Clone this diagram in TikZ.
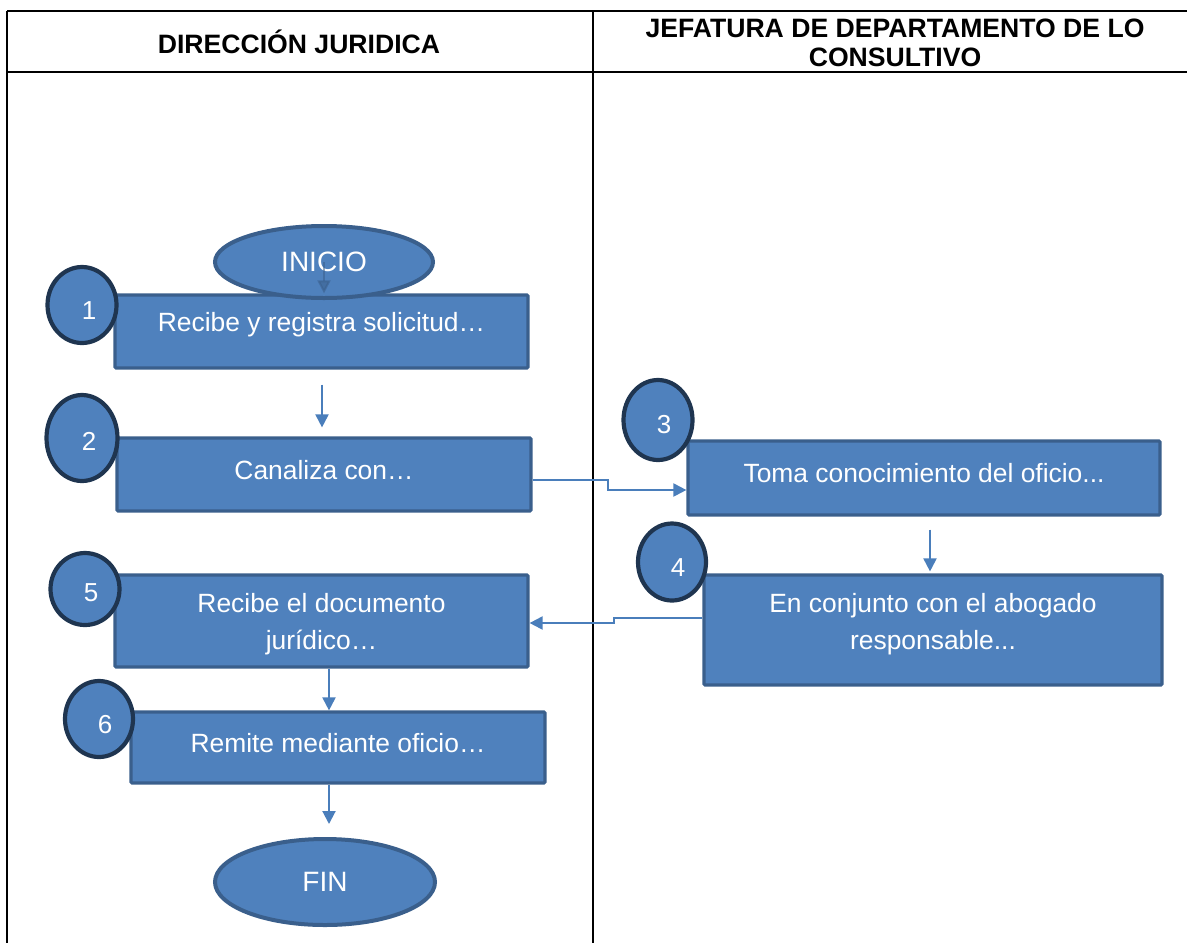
\documentclass[tikz,border=0pt]{standalone}
\usepackage{fontspec}
\setmainfont{Liberation Sans}
\usetikzlibrary{arrows.meta,calc,shapes.geometric}
\definecolor{fillblue}{HTML}{4F81BD}
\definecolor{edgeblue}{HTML}{3A5F8C}
\definecolor{navy}{HTML}{1F3550}
\definecolor{linkblue}{HTML}{4A7EBB}
\begin{document}
\begin{tikzpicture}[x=0.5pt,y=-0.5pt,
  rule/.style={draw=black, line width=1pt},
  hdr/.style={font=\fontsize{13.3}{14.6}\selectfont\bfseries, align=center, inner sep=0pt},
  box/.style={draw=edgeblue, line width=1.6pt, fill=fillblue, rectangle, inner sep=0pt, rounded corners=0.6pt},
  btext/.style={text=white, font=\fontsize{13.2}{18.5}\selectfont, align=center, inner sep=0pt},
  numc/.style={draw=navy, line width=2.1pt, fill=fillblue, ellipse, inner sep=0pt},
  numt/.style={text=white, font=\fontsize{13}{14}\selectfont, inner sep=0pt},
  term/.style={draw=edgeblue, line width=2pt, fill=fillblue, ellipse, inner sep=0pt},
  ttext/.style={text=white, font=\fontsize{14}{16}\selectfont, inner sep=0pt},
  conn/.style={draw=linkblue, line width=1pt, -{Triangle[length=6.5pt,width=6.5pt]}},
]
\useasboundingbox (0,0) rectangle (1187,943);

% table
\draw[rule] (7,11) -- (1187,11);
\draw[rule] (7,72) -- (1187,72);
\draw[rule] (7,11) -- (7,943);
\draw[rule] (593,11) -- (593,943);

\node[hdr] (h1) at (299,42) {DIRECCIÓN JURIDICA};
\node[hdr] (h2) at (895,42.5) {JEFATURA DE DEPARTAMENTO DE LO\\CONSULTIVO};

% boxes
\node[box, minimum width=206.5pt, minimum height=36.5pt] (b1) at (321.5,331.5) {};
\node[box, minimum width=207pt, minimum height=36.5pt] (b2) at (324,474.5) {};
\node[box, minimum width=236pt, minimum height=37pt] (b3) at (924,478) {};
\node[box, minimum width=229pt, minimum height=55pt] (b4) at (933,630) {};
\node[box, minimum width=206.5pt, minimum height=46pt] (b5) at (321.5,621) {};
\node[box, minimum width=207pt, minimum height=35.5pt] (b6) at (338,747.5) {};

\node[btext] (t1) at ($(b1.center)+(0,-6.5)$) {Recibe y registra solicitud…};
\node[btext] (t2) at ($(b2.center)+(0,-4.5)$) {Canaliza con…};
\node[btext] (t3) at ($(b3.center)+(0,-5)$) {Toma conocimiento del oficio...};
\node[btext] (t4) at ($(b4.center)+(0,-5.5)$) {En conjunto con el abogado\\responsable...};
\node[btext] (t5) at ($(b5.center)+(0,3.5)$) {Recibe el documento\\jurídico…};
\node[btext] (t6) at ($(b6.center)+(0,-4.5)$) {Remite mediante oficio…};

% number circles
\node[numc, minimum width=34.5pt, minimum height=38pt] (c1) at (82,305) {};
\node[numc, minimum width=35.5pt, minimum height=43pt] (c2) at (82,438) {};
\node[numc, minimum width=34.5pt, minimum height=40pt] (c3) at (658,420) {};
\node[numc, minimum width=34pt, minimum height=38.5pt] (c4) at (672,562) {};
\node[numc, minimum width=34.5pt, minimum height=36pt] (c5) at (85,589) {};
\node[numc, minimum width=34pt, minimum height=38pt] (c6) at (99,719) {};
\node[numt] (n1) at ($(c1.center)+(7,6)$) {1};
\node[numt] (n2) at ($(c2.center)+(7,3)$) {2};
\node[numt] (n3) at ($(c3.center)+(6,5)$) {3};
\node[numt] (n4) at ($(c4.center)+(6,6)$) {4};
\node[numt] (n5) at ($(c5.center)+(6,4)$) {5};
\node[numt] (n6) at ($(c6.center)+(6,6)$) {6};

% terminals
\node[term, minimum width=109pt, minimum height=36pt] (inicio) at (324,262) {};
\node[ttext] (ti) at (inicio.center) {INICIO};
\node[term, minimum width=110pt, minimum height=43pt] (fin) at (325,882) {};
\node[ttext] (tf) at (fin.center) {FIN};

% connectors
\draw[conn, draw=edgeblue, opacity=0.55] (inicio.center) -- (inicio.center |- b1.north);
\draw[conn] ($(b1.south)+(0.5,15)$) -- ($(b2.north)+(-2,-9)$);
\draw[conn] ($(b2.east)+(0,5.5)$) -- ++(75,0) |- ($(b3.west)+(0,12)$);
\draw[conn] ($(b3.south)+(6,13)$) -- ($(b4.north)+(-3,-2)$);
\draw[conn] ($(b4.west)+(0,-12)$) -- ++(-88,0) |- ($(b5.east)+(0,2)$);
\draw[conn] ($(b5.south)+(7.5,0)$) -- ($(b6.north)+(-9,0)$);
\draw[conn] ($(b6.south)+(-9,0)$) -- ($(fin.north)+(4,-13)$);
\end{tikzpicture}
\end{document}
